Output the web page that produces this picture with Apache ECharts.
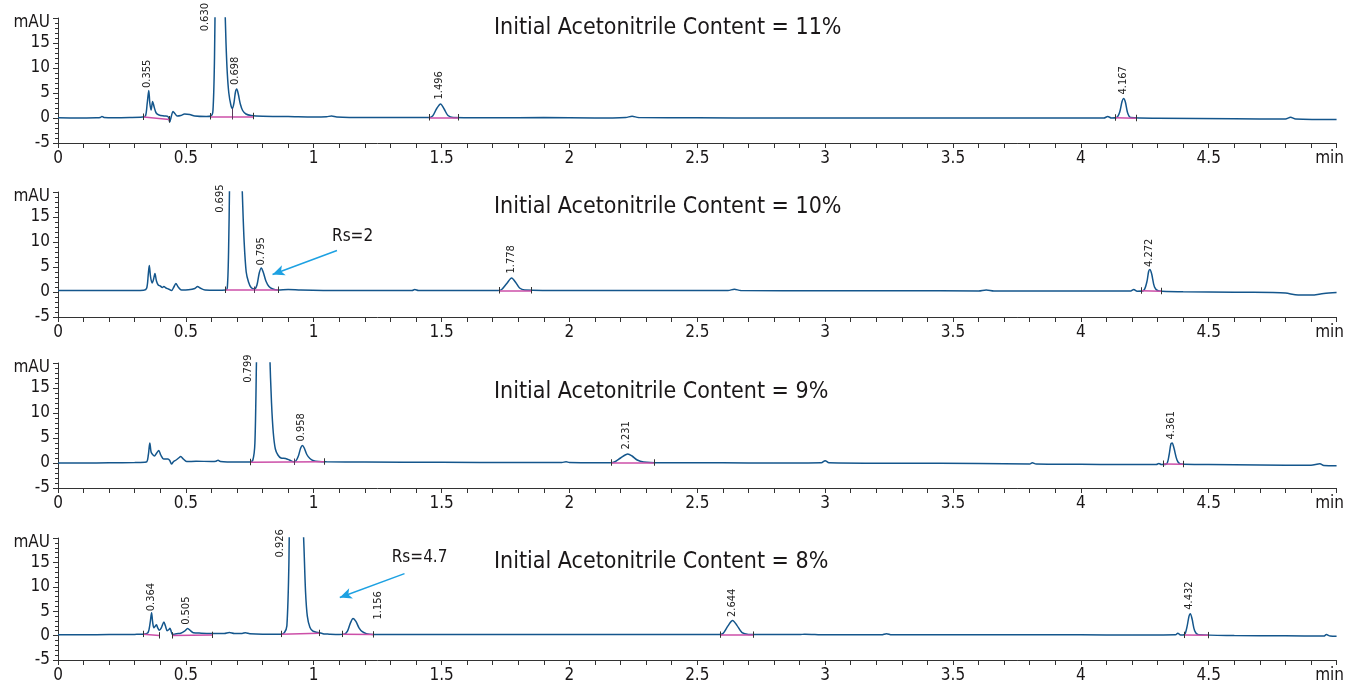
<!DOCTYPE html>
<html>
<head>
<meta charset="utf-8">
<script src="https://cdn.jsdelivr.net/npm/echarts@6/dist/echarts.min.js"></script>
<style>
html,body{margin:0;padding:0;background:#fff}
#main{width:1347px;height:684px}
</style>
</head>
<body>
<div id="main"></div>
<script>
// chromatogram traces, [time (min), signal (mAU)]
var trace11 = [[0,0.05],[0.08,0.0],[0.15,0.05],[0.165,0.1],[0.172,0.3],[0.18,0.1],[0.22,0.05],[0.28,0.1],[0.33,0.2],[0.342,0.4],[0.349,3.0],[0.355,5.5],[0.359,3.0],[0.364,1.6],[0.37,3.3],[0.376,2.2],[0.384,1.0],[0.395,0.6],[0.415,0.4],[0.43,0.3],[0.437,-0.8],[0.443,0.3],[0.45,1.3],[0.457,0.9],[0.466,0.4],[0.48,0.5],[0.495,0.8],[0.515,0.7],[0.535,0.4],[0.58,0.3],[0.598,0.4],[0.606,1.5],[0.612,12],[0.616,30],[0.624,60],[0.632,70],[0.64,50],[0.647,32],[0.652,24],[0.657,15],[0.662,9],[0.668,5],[0.676,2.6],[0.682,1.9],[0.688,3],[0.694,5.2],[0.699,5.8],[0.705,4.8],[0.713,2.8],[0.722,1.5],[0.735,0.8],[0.755,0.5],[0.8,0.35],[0.9,0.3],[1.0,0.2],[1.05,0.25],[1.07,0.4],[1.09,0.2],[1.2,0.1],[1.35,0.1],[1.45,0.1],[1.465,0.4],[1.48,1.8],[1.496,2.8],[1.51,1.8],[1.525,0.5],[1.545,0.1],[1.7,0.05],[1.9,0.1],[2.1,0.0],[2.22,0.1],[2.245,0.35],[2.27,0.1],[2.5,0.05],[2.8,0.0],[3.1,0.0],[3.4,0.0],[3.7,0.0],[4.0,0.0],[4.09,0.0],[4.105,0.3],[4.12,0.0],[4.14,0.1],[4.152,1.2],[4.161,3.3],[4.167,3.9],[4.174,3.2],[4.183,1.0],[4.195,0.1],[4.3,-0.05],[4.6,-0.15],[4.8,-0.2],[4.82,0.15],[4.84,-0.2],[5.0,-0.3]];
var trace10 = [[0,0.3],[0.1,0.3],[0.2,0.3],[0.3,0.3],[0.335,0.35],[0.347,0.8],[0.353,3.5],[0.357,5.3],[0.362,3.0],[0.368,1.8],[0.374,2.6],[0.379,3.7],[0.385,2.2],[0.392,1.4],[0.4,1.2],[0.408,0.9],[0.414,1.1],[0.422,0.8],[0.432,0.6],[0.444,0.3],[0.453,1.0],[0.461,1.7],[0.47,1.0],[0.483,0.4],[0.51,0.45],[0.535,0.7],[0.546,1.1],[0.556,0.8],[0.575,0.4],[0.62,0.35],[0.655,0.4],[0.662,0.8],[0.667,8],[0.671,22],[0.68,55],[0.695,75],[0.708,50],[0.716,28],[0.722,18],[0.728,10],[0.736,4],[0.745,2.0],[0.755,0.9],[0.768,0.6],[0.778,1.4],[0.787,3.8],[0.795,4.8],[0.803,3.9],[0.813,2.2],[0.825,1.1],[0.84,0.6],[0.86,0.4],[0.9,0.5],[0.95,0.4],[1.1,0.3],[1.3,0.3],[1.385,0.3],[1.395,0.5],[1.41,0.3],[1.6,0.3],[1.72,0.3],[1.735,0.5],[1.755,1.7],[1.774,2.8],[1.79,1.9],[1.805,0.8],[1.825,0.4],[2.0,0.3],[2.3,0.3],[2.62,0.3],[2.645,0.55],[2.67,0.3],[3.0,0.25],[3.3,0.25],[3.6,0.2],[3.63,0.4],[3.66,0.2],[4.0,0.2],[4.195,0.2],[4.207,0.5],[4.22,0.15],[4.245,0.3],[4.258,2.0],[4.265,4.1],[4.27,4.5],[4.277,3.6],[4.288,1.0],[4.305,0.2],[4.4,0.05],[4.6,-0.05],[4.75,-0.1],[4.8,-0.2],[4.85,-0.6],[4.9,-0.6],[4.95,-0.3],[5.0,-0.1]];
var trace9 = [[0,0.0],[0.1,0.0],[0.2,0.05],[0.3,0.1],[0.345,0.2],[0.353,1.5],[0.359,4.0],[0.364,2.2],[0.37,1.7],[0.377,1.4],[0.386,2.0],[0.394,2.5],[0.402,1.6],[0.413,0.8],[0.43,0.8],[0.437,0.5],[0.444,-0.2],[0.452,0.3],[0.462,0.6],[0.472,1.0],[0.48,1.3],[0.49,0.8],[0.503,0.3],[0.54,0.35],[0.6,0.3],[0.618,0.35],[0.626,0.55],[0.635,0.3],[0.7,0.2],[0.75,0.2],[0.762,0.6],[0.77,4],[0.776,20],[0.79,60],[0.805,70],[0.82,40],[0.828,22],[0.835,12],[0.842,6],[0.85,2.8],[0.86,1.6],[0.872,1.0],[0.89,0.9],[0.905,0.6],[0.92,0.25],[0.93,0.4],[0.94,1.4],[0.949,3.0],[0.956,3.5],[0.963,3.0],[0.973,1.7],[0.985,0.9],[1.0,0.45],[1.02,0.3],[1.05,0.25],[1.2,0.2],[1.5,0.15],[1.8,0.1],[1.97,0.1],[1.987,0.25],[2.0,0.1],[2.16,0.05],[2.18,0.3],[2.2,1.0],[2.228,1.8],[2.245,1.4],[2.265,0.6],[2.29,0.2],[2.35,0.05],[2.6,0.05],[2.8,0.0],[2.985,0.05],[3.0,0.45],[3.015,0.05],[3.3,-0.05],[3.6,-0.1],[3.8,-0.2],[3.81,0.05],[3.825,-0.2],[4.0,-0.25],[4.15,-0.3],[4.295,-0.3],[4.305,-0.1],[4.315,-0.3],[4.335,-0.2],[4.345,1.6],[4.352,3.8],[4.357,4.0],[4.364,3.0],[4.376,0.6],[4.39,-0.2],[4.5,-0.3],[4.7,-0.4],[4.9,-0.45],[4.935,-0.15],[4.95,-0.5],[5.0,-0.55]];
var trace8 = [[0,0.15],[0.1,0.15],[0.2,0.2],[0.3,0.25],[0.335,0.3],[0.352,0.6],[0.36,2.5],[0.366,4.7],[0.37,2.8],[0.375,1.6],[0.38,1.9],[0.385,2.2],[0.39,1.6],[0.396,1.1],[0.404,1.6],[0.414,2.8],[0.42,2.0],[0.427,1.0],[0.433,1.2],[0.438,1.5],[0.443,0.8],[0.448,0.2],[0.456,0.3],[0.464,0.4],[0.48,0.5],[0.495,0.9],[0.507,1.45],[0.518,1.0],[0.529,0.6],[0.56,0.5],[0.6,0.45],[0.65,0.45],[0.67,0.65],[0.69,0.45],[0.72,0.45],[0.733,0.6],[0.75,0.4],[0.8,0.3],[0.87,0.3],[0.885,0.6],[0.895,2],[0.903,15],[0.915,60],[0.93,75],[0.945,50],[0.955,28],[0.962,18],[0.968,9],[0.975,4],[0.985,1.7],[0.997,0.9],[1.01,0.7],[1.023,0.6],[1.04,0.35],[1.06,0.3],[1.1,0.25],[1.12,0.3],[1.132,0.9],[1.143,2.5],[1.154,3.5],[1.165,2.9],[1.177,1.6],[1.19,0.8],[1.206,0.4],[1.23,0.25],[1.4,0.2],[1.8,0.2],[2.2,0.25],[2.5,0.2],[2.585,0.2],[2.6,0.4],[2.62,2.0],[2.638,3.1],[2.655,2.1],[2.675,0.6],[2.7,0.25],[2.8,0.2],[2.86,0.25],[2.9,0.2],[2.92,0.3],[3.0,0.15],[3.22,0.15],[3.24,0.4],[3.26,0.15],[3.6,0.15],[4.0,0.15],[4.2,0.1],[4.37,0.15],[4.379,0.5],[4.39,0.1],[4.405,0.2],[4.415,1.8],[4.423,4.0],[4.428,4.5],[4.435,3.4],[4.445,1.0],[4.46,0.2],[4.6,0.0],[4.8,-0.05],[4.95,-0.1],[4.96,0.2],[4.975,-0.1],[5.0,-0.15]];

// integration baselines [t1, y1, t2, y2] and drop lines [t, yBase, yValley]
var base11 = [[0.335,0.2,0.435,-0.3],[0.595,0.3,0.763,0.35],[1.45,0.1,1.565,0.1],[4.135,0.05,4.215,-0.05]];
var drops11 = [[0.682,0.3,1.9]];
var base10 = [[0.656,0.4,0.861,0.4],[1.724,0.3,1.85,0.3],[4.236,0.25,4.314,0.15]];
var drops10 = [[0.768,0.4,0.6]];
var base9 = [[0.753,0.15,1.043,0.25],[2.163,0.05,2.33,0.05],[4.324,-0.2,4.4,-0.25]];
var drops9 = [[0.922,0.2,0.3]];
var base8 = [[0.333,0.3,0.396,0.0],[0.448,0.0,0.603,0.1],[0.874,0.3,1.021,0.5],[1.112,0.3,1.234,0.2],[2.59,0.15,2.719,0.15],[4.406,0.1,4.497,0.05]];
var drops8 = [];

// peak labels [t, y, text]; y above 20 means label hangs from the top
var peaks11 = [[0.348,6.0,'0.355'],[0.574,23,'0.630'],[0.691,6.6,'0.698'],[1.489,3.7,'1.496'],[4.164,4.7,'4.167']];
var peaks10 = [[0.633,21.5,'0.695'],[0.796,5.3,'0.795'],[1.772,3.7,'1.778'],[4.266,5.0,'4.272']];
var peaks9 = [[0.743,21.7,'0.799'],[0.952,4.3,'0.958'],[2.221,2.7,'2.231'],[4.354,4.7,'4.361']];
var peaks8 = [[0.363,5.0,'0.364'],[0.503,2.2,'0.505'],[0.867,21.8,'0.926'],[1.251,3.3,'1.156'],[2.638,3.8,'2.644'],[4.422,5.3,'4.432']];

// resolution notes: text [t, y, text], arrow [t1, y1, t2, y2]
var notes10 = [[1.152,11.0,'Rs=2']];
var arrow10 = [[1.091,8.3,0.839,3.5]];
var notes8 = [[1.414,16.0,'Rs=4.7']];
var arrow8 = [[1.355,12.7,1.102,7.8]];

var titles = ['Initial Acetonitrile Content = 11%','Initial Acetonitrile Content = 10%','Initial Acetonitrile Content = 9%','Initial Acetonitrile Content = 8%'];
var xTicks = { min: 0, max: 5, step: 0.5 };
var yTicks = { min: -5, max: 20, step: 5 };

var FF = '"DejaVu Sans Condensed", "Liberation Sans Narrow", sans-serif';
var TXT = '#1a1718';
var traces = [trace11, trace10, trace9, trace8];
var bases = [base11, base10, base9, base8];
var drops = [drops11, drops10, drops9, drops8];
var peaks = [peaks11, peaks10, peaks9, peaks8];
var notes = [[], notes10, [], notes8];
var arrows = [[], arrow10, [], arrow8];
var gridTops = [18, 192, 363, 538];
var titleTops = [17, 196, 381, 551];

var myChart = echarts.init(document.getElementById('main'));

var grid = [], xAxis = [], yAxis = [], series = [], title = [];
for (var i = 0; i < 4; i++) {
  grid.push({ left: 58, right: 9, top: gridTops[i], height: 125 });
  title.push({
    text: titles[i], left: 494, top: titleTops[i], padding: 0,
    textStyle: { fontFamily: FF, fontSize: 23, fontWeight: 'normal', color: TXT }
  });
  xAxis.push({
    type: 'value', gridIndex: i, min: xTicks.min, max: xTicks.max, interval: xTicks.step,
    axisLine: { onZero: false, lineStyle: { color: '#333', width: 1 } },
    axisTick: { length: 5, lineStyle: { color: '#333' } },
    minorTick: { show: true, splitNumber: 5, length: 5, lineStyle: { color: '#333' } },
    splitLine: { show: false },
    axisLabel: {
      margin: 7, fontFamily: FF, fontSize: 17, color: TXT,
      formatter: function (v) { return v === 5 ? '{m|min}' : String(v); },
      rich: { m: { fontFamily: FF, fontSize: 17, color: TXT, padding: [0, 14, 0, 0] } }
    }
  });
  yAxis.push({
    type: 'value', gridIndex: i, min: yTicks.min, max: yTicks.max, interval: yTicks.step,
    axisLine: { show: true, onZero: false, lineStyle: { color: '#333', width: 1 } },
    axisTick: { length: 5, lineStyle: { color: '#333' } },
    minorTick: { show: true, splitNumber: 5, length: 3, lineStyle: { color: '#333' } },
    splitLine: { show: false },
    axisLabel: {
      margin: 8, fontFamily: FF, fontSize: 17, color: TXT,
      formatter: function (v) { return v === 20 ? '{u|mAU}' : String(v); },
      rich: { u: { fontFamily: FF, fontSize: 17, color: TXT, padding: [9, 0, 0, 0] } }
    }
  });

  // baselines, end ticks, drop lines, arrows
  var ml = [];
  bases[i].forEach(function (b) {
    ml.push([{ coord: [b[0], b[1]], lineStyle: { color: '#cc4fa8', width: 1.5, type: 'solid' } }, { coord: [b[2], b[3]] }]);
    ml.push([{ coord: [b[0], b[1] - 0.6], lineStyle: { color: '#333', width: 1, type: 'solid' } }, { coord: [b[0], b[1] + 0.7] }]);
    ml.push([{ coord: [b[2], b[3] - 0.6], lineStyle: { color: '#333', width: 1, type: 'solid' } }, { coord: [b[2], b[3] + 0.7] }]);
  });
  drops[i].forEach(function (d) {
    ml.push([{ coord: [d[0], d[1] - 0.6], lineStyle: { color: '#5a3a5a', width: 1, type: 'solid' } }, { coord: [d[0], Math.max(d[2], d[1] + 0.7)] }]);
  });
  arrows[i].forEach(function (a) {
    ml.push([{ coord: [a[0], a[1]], symbol: 'none', lineStyle: { color: '#1da1e2', width: 1.5, type: 'solid' } },
             { coord: [a[2], a[3]], symbol: 'arrow', symbolSize: [8, 12] }]);
  });

  series.push({
    type: 'line', xAxisIndex: i, yAxisIndex: i, data: traces[i],
    showSymbol: false, smooth: 0.3, clip: true, silent: true, animation: false,
    lineStyle: { color: '#14568c', width: 1.5 },
    markLine: { silent: true, animation: false, symbol: ['none', 'none'], label: { show: false }, data: ml }
  });

  series.push({
    type: 'scatter', xAxisIndex: i, yAxisIndex: i, symbolSize: 0, clip: false, silent: true, animation: false,
    itemStyle: { opacity: 1 },
    data: peaks[i].map(function (p) {
      var hang = p[1] > 20;
      return {
        value: [p[0], p[1]],
        label: {
          show: true, position: [0, 0], rotate: 90, formatter: p[2],
          align: hang ? 'right' : 'left', verticalAlign: 'middle',
          fontFamily: FF, fontSize: 11, color: '#222'
        }
      };
    })
  });

  if (notes[i].length) {
    series.push({
      type: 'scatter', xAxisIndex: i, yAxisIndex: i, symbolSize: 0, clip: false, silent: true, animation: false,
      itemStyle: { opacity: 1 },
      data: notes[i].map(function (n) {
        return { value: [n[0], n[1]], label: { show: true, position: [0, 0], align: 'center', verticalAlign: 'middle', formatter: n[2], fontFamily: FF, fontSize: 17, color: TXT } };
      })
    });
  }
}

var option = { backgroundColor: '#fff', animation: false, title: title, grid: grid, xAxis: xAxis, yAxis: yAxis, series: series };
myChart.setOption(option);
</script>
</body>
</html>
